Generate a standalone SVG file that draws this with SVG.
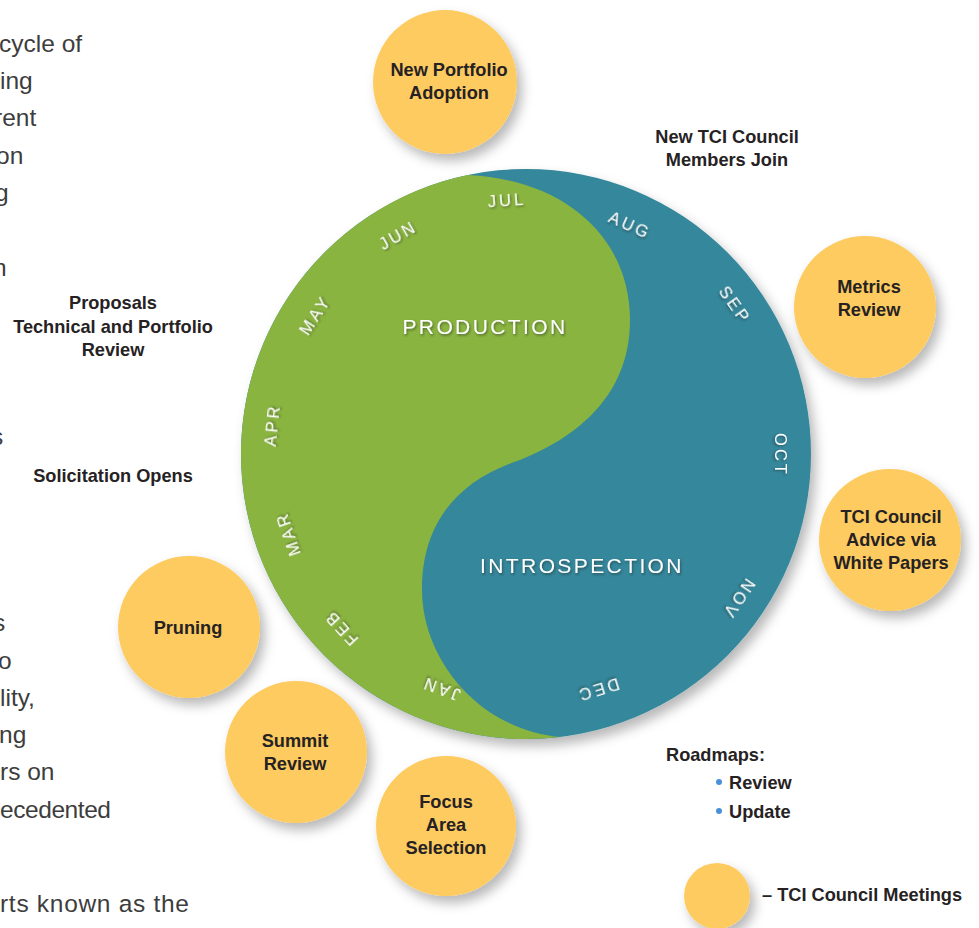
<svg xmlns="http://www.w3.org/2000/svg" width="979" height="928" viewBox="0 0 979 928">
<defs>
<filter id="sh" x="-30%" y="-30%" width="170%" height="170%"><feDropShadow dx="5" dy="7" stdDeviation="6" flood-color="#000" flood-opacity="0.28"/></filter>
<filter id="tsh" x="-20%" y="-40%" width="140%" height="180%"><feDropShadow dx="1" dy="1.5" stdDeviation="0.8" flood-color="#1a2a2a" flood-opacity="0.55"/></filter>
<style>
.para{font-family:"Liberation Sans",Arial,sans-serif;font-size:24.5px;fill:#3d3d3d}
.lbl{font-family:"Liberation Sans",Arial,sans-serif;font-size:18.2px;font-weight:bold;fill:#262223;text-anchor:middle}
.lbll{font-family:"Liberation Sans",Arial,sans-serif;font-size:18.2px;font-weight:bold;fill:#262223}
.mon{font-family:"Liberation Sans",Arial,sans-serif;font-size:16.5px;fill:#fff;letter-spacing:3px;text-anchor:middle;dominant-baseline:central;filter:url(#tsh)}
.big{font-family:"Liberation Sans",Arial,sans-serif;font-size:21px;fill:#fff;letter-spacing:2.4px;text-anchor:middle;filter:url(#tsh)}
.yc{fill:#FDCB60;filter:url(#sh)}
</style>
</defs>
<rect width="979" height="928" fill="#fff"/>
<g id="paragraph">
<text class="para" x="-1" y="52">cycle of</text>
<text class="para" x="0" y="89">ing</text>
<text class="para" x="-6" y="126">rent</text>
<text class="para" x="-4" y="164">on</text>
<text class="para" x="-5" y="201">g</text>
<text class="para" x="-7" y="276">n</text>
<text class="para" x="-9" y="445">s</text>
<text class="para" x="-7" y="631">s</text>
<text class="para" x="-2" y="669">o</text>
<text class="para" x="0" y="706">lity,</text>
<text class="para" x="-1" y="743">ng</text>
<text class="para" x="0" y="780">rs on</text>
<text class="para" x="0" y="818" textLength="111">ecedented</text>
<text class="para" x="0" y="912" textLength="189">rts known as the</text>
</g>
<g id="cycle">
<circle cx="526" cy="454" r="285" fill="#35879B" filter="url(#sh)"/>
<path d="M 468,175 C 568,180 630,240 630,320 C 630,400 570,440 520,460 C 460,480 422,520 422,590 C 422,660 480,730 560,737 A 285 285 0 0 1 468,175 Z" fill="#8AB440"/>
<text class="big" x="485" y="334">PRODUCTION</text>
<text class="big" x="582" y="573">INTROSPECTION</text>
<text class="mon" transform="translate(507,200) rotate(-4)">JUL</text>
<text class="mon" transform="translate(630,225) rotate(24)">AUG</text>
<text class="mon" transform="translate(735,305) rotate(55)">SEP</text>
<text class="mon" transform="translate(781,455) rotate(90)">OCT</text>
<text class="mon" transform="translate(739,599) rotate(124)">NOV</text>
<text class="mon" transform="translate(598,690) rotate(163)">DEC</text>
<text class="mon" transform="translate(441,689) rotate(200)">JAN</text>
<text class="mon" transform="translate(341,628) rotate(227)">FEB</text>
<text class="mon" transform="translate(288,534) rotate(251)">MAR</text>
<text class="mon" transform="translate(272,425) rotate(276)">APR</text>
<text class="mon" transform="translate(315,315) rotate(303)">MAY</text>
<text class="mon" transform="translate(398,235) rotate(330)">JUN</text>
</g>
<g id="new-portfolio-adoption">
<circle class="yc" cx="445" cy="82" r="72"/>
<text class="lbl" x="449" y="76">New Portfolio</text>
<text class="lbl" x="449" y="99">Adoption</text>
</g>
<g id="new-members">
<text class="lbl" x="727" y="143">New TCI Council</text>
<text class="lbl" x="727" y="166">Members Join</text>
</g>
<g id="metrics-review">
<circle class="yc" cx="865" cy="307" r="71"/>
<text class="lbl" x="869" y="293">Metrics</text>
<text class="lbl" x="869" y="316">Review</text>
</g>
<g id="tci-advice">
<circle class="yc" cx="890" cy="540" r="71"/>
<text class="lbl" x="891" y="523">TCI Council</text>
<text class="lbl" x="891" y="546">Advice via</text>
<text class="lbl" x="891" y="569">White Papers</text>
</g>
<g id="proposals">
<text class="lbl" x="113" y="309">Proposals</text>
<text class="lbl" x="113" y="333">Technical and Portfolio</text>
<text class="lbl" x="113" y="356">Review</text>
</g>
<g id="solicitation">
<text class="lbl" x="113" y="482">Solicitation Opens</text>
</g>
<g id="pruning">
<circle class="yc" cx="189" cy="627" r="71"/>
<text class="lbl" x="188" y="634">Pruning</text>
</g>
<g id="summit-review">
<circle class="yc" cx="296" cy="752" r="71"/>
<text class="lbl" x="295" y="747">Summit</text>
<text class="lbl" x="295" y="770">Review</text>
</g>
<g id="focus-area">
<circle class="yc" cx="446" cy="826" r="70"/>
<text class="lbl" x="446" y="808">Focus</text>
<text class="lbl" x="446" y="831">Area</text>
<text class="lbl" x="446" y="854">Selection</text>
</g>
<g id="roadmaps">
<text class="lbll" x="666" y="761">Roadmaps:</text>
<circle cx="719" cy="782" r="3" fill="#4A90D9"/>
<text class="lbll" x="729" y="789">Review</text>
<circle cx="719" cy="811" r="3" fill="#4A90D9"/>
<text class="lbll" x="729" y="818">Update</text>
</g>
<g id="legend">
<circle class="yc" cx="717" cy="896" r="33"/>
<text class="lbll" x="762" y="901">– TCI Council Meetings</text>
</g>
</svg>
